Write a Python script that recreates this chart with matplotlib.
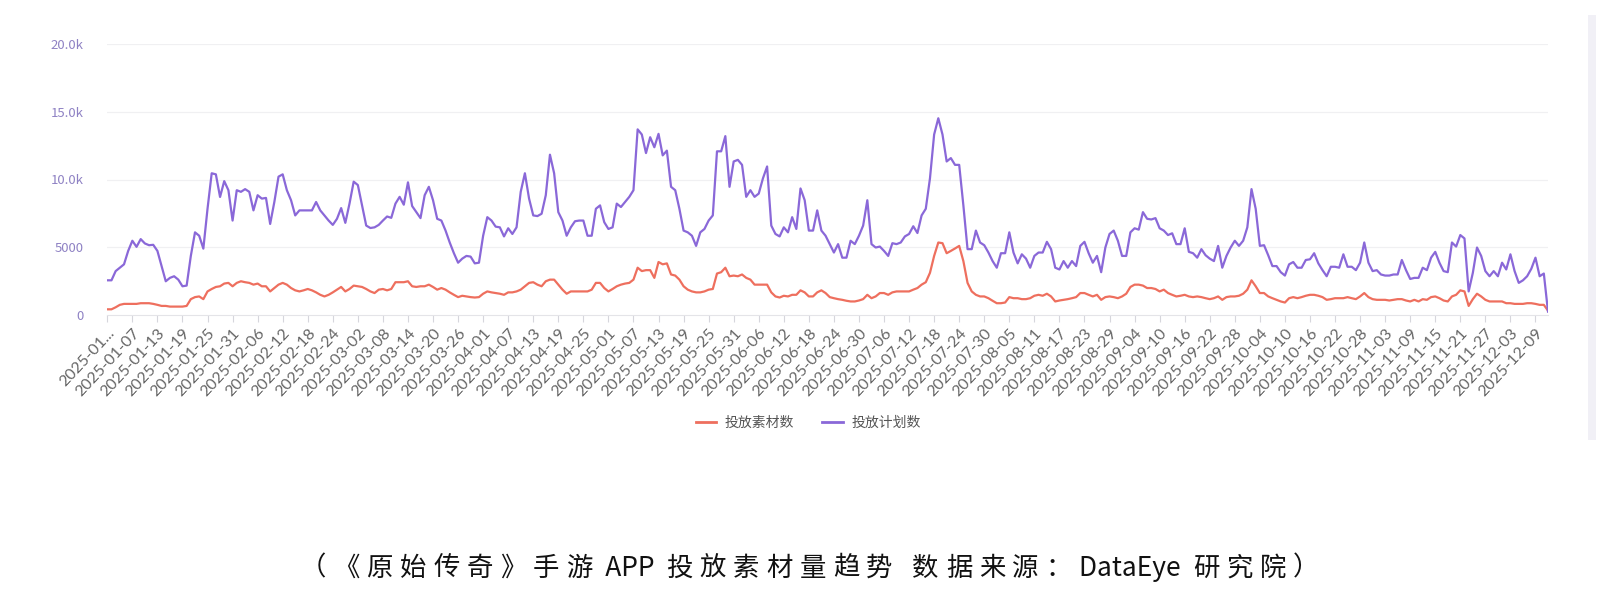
import matplotlib
matplotlib.use("Agg")
import matplotlib.pyplot as plt
import numpy as np
import pandas as pd
from matplotlib.lines import Line2D
from matplotlib.patches import Rectangle
from matplotlib.offsetbox import TextArea, HPacker, AnchoredOffsetbox

plt.rcParams['font.family'] = ['Noto Sans CJK SC', 'DejaVu Sans']

# ---------------- data ----------------
start_date = "2025-01-01"

plan_counts = [  # 投放计划数
    2560, 2560, 3240, 3490, 3740, 4730, 5480, 5030, 5600, 5280,
    5150, 5180, 4730, 3610, 2490, 2740, 2860, 2610, 2120, 2170,
    4360, 6100, 5850, 4900, 7840, 10460, 10380, 8710, 9880, 9210,
    6970, 9210, 9090, 9290, 9090, 7720, 8840, 8590, 8640, 6720,
    8340, 10210, 10380, 9210, 8470, 7350, 7720, 7720, 7720, 7720,
    8340, 7720, 7350, 6970, 6650, 7100, 7890, 6800, 8220, 9840,
    9590, 8090, 6600, 6420, 6470, 6650, 6970, 7270, 7170, 8220,
    8720, 8140, 9790, 8040, 7590, 7150, 8840, 9460, 8470, 7100,
    6970, 6230, 5350, 4560, 3860, 4160, 4360, 4310, 3810, 3860,
    5850, 7220, 6970, 6520, 6470, 5800, 6400, 5980, 6470, 9090,
    10460, 8590, 7350, 7300, 7470, 8840, 11830, 10460, 7590, 6970,
    5850, 6470, 6920, 6970, 6970, 5850, 5850, 7840, 8090, 6850,
    6350, 6470, 8220, 7970, 8340, 8720, 9210, 13700, 13320, 11950,
    13120, 12380, 13370, 11780, 12130, 9460, 9210, 7840, 6230, 6100,
    5850, 5100, 6100, 6350, 6970, 7350, 12080, 12080, 13200, 9460,
    11330, 11450, 11080, 8720, 9210, 8720, 8960, 10080, 10960, 6600,
    5980, 5800, 6470, 6100, 7220, 6350, 9340, 8470, 6230, 6230,
    7720, 6230, 5850, 5230, 4610, 5230, 4230, 4230, 5480, 5230,
    5850, 6600, 8470, 5230, 4980, 5050, 4730, 4360, 5300, 5230,
    5350, 5800, 5980, 6550, 6050, 7350, 7840, 10080, 13320, 14520,
    13320, 11330, 11580, 11080, 11080, 8090, 4860, 4860, 6230, 5350,
    5150, 4610, 3980, 3490, 4560, 4560, 6100, 4610, 3810, 4480,
    4160, 3490, 4360, 4610, 4610, 5400, 4860, 3490, 3360, 3980,
    3490, 3980, 3610, 5100, 5400, 4560, 3860, 4360, 3160, 4980,
    5980, 6230, 5480, 4360, 4360, 6100, 6400, 6300, 7590, 7100,
    7050, 7150, 6400, 6230, 5900, 6030, 5230, 5230, 6400, 4660,
    4560, 4230, 4860, 4410, 4160, 3980, 5100, 3490, 4360, 4980,
    5480, 5100, 5480, 6470, 9290, 7840, 5100, 5150, 4410, 3610,
    3610, 3160, 2910, 3740, 3910, 3490, 3490, 4060, 4110, 4560,
    3810, 3310, 2860, 3560, 3560, 3490, 4480, 3560, 3560, 3310,
    3860, 5350, 3860, 3240, 3310, 2990, 2910, 2910, 2990, 2990,
    4060, 3310, 2660, 2740, 2740, 3490, 3310, 4230, 4660, 3860,
    3240, 3160, 5350, 5050, 5900, 5650, 1740, 3110, 4980, 4360,
    3240, 2860, 3240, 2860, 3860, 3360, 4480, 3240, 2370, 2560,
    2860, 3410, 4230, 2860, 3060, 250,
]

material_counts = [  # 投放素材数
    420, 420, 570, 750, 820, 820, 820, 820, 870, 870,
    870, 820, 750, 670, 670, 620, 620, 620, 620, 670,
    1170, 1320, 1370, 1170, 1740, 1920, 2070, 2120, 2320, 2370,
    2120, 2370, 2490, 2420, 2370, 2240, 2320, 2120, 2120, 1740,
    1990, 2240, 2370, 2240, 1990, 1820, 1740, 1820, 1920, 1820,
    1670, 1490, 1370, 1490, 1670, 1870, 2070, 1740, 1920, 2170,
    2120, 2070, 1920, 1740, 1620, 1870, 1920, 1820, 1920, 2420,
    2420, 2420, 2490, 2120, 2070, 2120, 2120, 2240, 2070, 1870,
    1990, 1870, 1670, 1490, 1320, 1420, 1370, 1320, 1290, 1320,
    1570, 1740, 1670, 1620, 1570, 1490, 1670, 1670, 1740, 1870,
    2120, 2370, 2420, 2240, 2120, 2490, 2610, 2610, 2240, 1870,
    1570, 1740, 1740, 1740, 1740, 1740, 1870, 2370, 2370, 1990,
    1740, 1920, 2120, 2240, 2320, 2370, 2610, 3490, 3240, 3310,
    3310, 2740, 3910, 3740, 3810, 2990, 2910, 2610, 2120, 1870,
    1740, 1670, 1670, 1740, 1870, 1920, 3060, 3160, 3490, 2860,
    2910, 2860, 2990, 2740, 2610, 2240, 2240, 2240, 2240, 1670,
    1370, 1290, 1420, 1370, 1490, 1490, 1820, 1670, 1370, 1370,
    1670, 1820, 1620, 1320, 1240, 1170, 1120, 1050, 1000, 1000,
    1070, 1170, 1490, 1240, 1370, 1620, 1620, 1490, 1670, 1740,
    1740, 1740, 1740, 1870, 1990, 2240, 2420, 3110, 4360, 5350,
    5300, 4560, 4730, 4910, 5100, 3980, 2370, 1740, 1490, 1370,
    1370, 1240, 1050, 870, 870, 920, 1320, 1240, 1240, 1170,
    1170, 1240, 1420, 1490, 1420, 1570, 1370, 1000, 1070, 1120,
    1170, 1240, 1320, 1620, 1620, 1490, 1370, 1490, 1120, 1320,
    1370, 1320, 1240, 1370, 1570, 2070, 2240, 2240, 2170, 1990,
    1990, 1920, 1740, 1870, 1620, 1490, 1370, 1420, 1490, 1370,
    1320, 1370, 1320, 1240, 1170, 1240, 1370, 1120, 1320, 1370,
    1370, 1420, 1570, 1870, 2560, 2120, 1620, 1620, 1370, 1240,
    1120, 1000, 920, 1240, 1320, 1240, 1320, 1420, 1490, 1490,
    1420, 1320, 1120, 1170, 1240, 1240, 1240, 1320, 1240, 1170,
    1370, 1620, 1320, 1170, 1120, 1120, 1120, 1070, 1120, 1170,
    1170, 1070, 1000, 1120, 1000, 1170, 1120, 1320, 1370, 1240,
    1070, 1000, 1370, 1490, 1820, 1740, 670, 1170, 1570, 1370,
    1120, 1000, 1000, 1000, 1000, 870, 870, 820, 820, 820,
    870, 870, 820, 750, 750, 320,
]

series_names = ["投放素材数", "投放计划数"]
y_ticks = [0, 5000, 10000, 15000, 20000]
y_tick_labels = ["0", "5000", "10.0k", "15.0k", "20.0k"]
caption_tokens = ["（", "《", "原", "始", "传", "奇", "》", "手", "游", "\u2009APP\u2009",
                  "投", "放", "素", "材", "量", "趋", "势", " ", "数", "据", "来", "源", "：",
                  "DataEye\u2009", "研", "究", "院", "）"]

dates = pd.date_range(start_date, periods=len(plan_counts), freq="D").strftime("%Y-%m-%d").tolist()
tick_step = 6

# ---------------- figure ----------------
W, H = 1619, 613
fig = plt.figure(figsize=(W / 100, H / 100), dpi=100)
fig.patch.set_facecolor("white")

left, right = 107.3 / W, 1548 / W
bottom, top = 1 - 315 / H, 1 - 44 / H
ax = fig.add_axes([left, bottom, right - left, top - bottom])

x = np.arange(len(dates))
c_red = "#ee6f5e"
c_purple = "#8a68d8"

ax.plot(x, material_counts, color=c_red, lw=1.6, solid_joinstyle="round", zorder=3)
ax.plot(x, plan_counts, color=c_purple, lw=1.6, solid_joinstyle="round", zorder=4)

ax.set_xlim(0, len(dates) - 1)
ax.set_ylim(0, 20000)

ax.set_yticks(y_ticks)
ax.set_yticklabels(y_tick_labels)
ax.tick_params(axis="y", length=0, pad=17, labelsize=9.5, labelcolor="#8f82c4")
for t in y_ticks[1:]:
    ax.axhline(t, color="#f0f0f2", lw=0.9, zorder=1)

tick_pos = x[::tick_step]
tick_labels = [dates[i] for i in tick_pos]
tick_labels[0] = dates[0][:7] + "..."
ax.set_xticks(tick_pos)
ax.set_xticklabels(tick_labels, rotation=47, ha="right", rotation_mode="anchor",
                   family=["Lato", "DejaVu Sans"], fontweight="normal")
ax.tick_params(axis="x", length=5, width=0.8, color="#d6d6dc", pad=3,
               labelsize=11.5, labelcolor="#666666")

for s in ["top", "right", "left"]:
    ax.spines[s].set_visible(False)
ax.spines["bottom"].set_color("#e4e4e8")
ax.spines["bottom"].set_linewidth(0.8)
ax.set_facecolor("white")

# legend
handles = [Line2D([0], [0], color=c_red, lw=2.0),
           Line2D([0], [0], color=c_purple, lw=2.0)]
fig.legend(handles, series_names, loc="center", bbox_to_anchor=(808 / W, 1 - 423 / H),
           ncol=2, frameon=False, fontsize=10, handlelength=1.5, handletextpad=0.6,
           columnspacing=2.0, labelcolor="#555555")

# scrollbar-like strip on the right
fig.patches.append(Rectangle((1588 / W, 1 - 440 / H), 8 / W, 425 / H,
                             transform=fig.transFigure, facecolor="#f1f0f6",
                             edgecolor="none"))

# caption with slight letter spacing
areas = [TextArea(tok, textprops=dict(fontsize=19, color="#111111",
                                      family=["Noto Sans CJK SC", "DejaVu Sans"]))
         for tok in caption_tokens]
pack = HPacker(children=areas, align="baseline", pad=0, sep=5.0)
anch = AnchoredOffsetbox(loc="center", child=pack, pad=0, frameon=False,
                         bbox_to_anchor=(0.5, 1 - 568 / H), bbox_transform=fig.transFigure,
                         borderpad=0)
fig.add_artist(anch)

fig.savefig("out.png", dpi=100, facecolor="white")
